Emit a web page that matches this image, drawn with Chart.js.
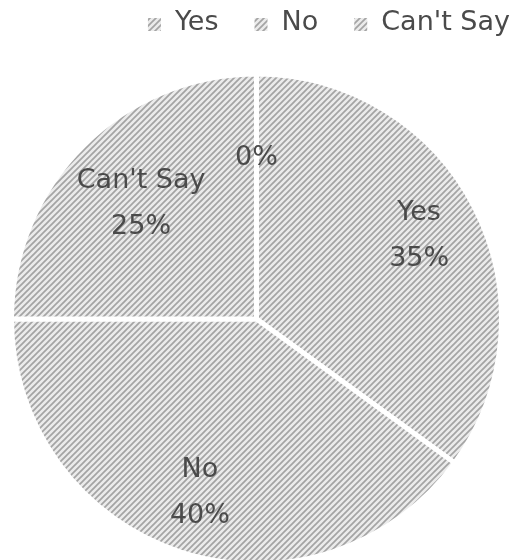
<!DOCTYPE html>
<html><head><meta charset="utf-8">
<script src="https://cdn.jsdelivr.net/npm/chart.js@4.4.0/dist/chart.umd.min.js"></script>
<style>html,body{margin:0;padding:0;background:#fff;overflow:hidden}#wrap{position:relative;width:517px;height:560px}</style>
</head><body><div id="wrap"><canvas id="c" width="517" height="560"></canvas></div>
<script>
const categories = ['Yes', 'No', "Can't Say", ''];
const values = [35, 40, 25, 0];
const legendLabels = ['Yes', 'No', "Can't Say"];

const canvas = document.getElementById('c');
const ctx = canvas.getContext('2d');

function makeHatch() {
  const s = 6;
  const c = document.createElement('canvas');
  c.width = s; c.height = s;
  const g = c.getContext('2d');
  g.fillStyle = '#ebebeb';
  g.fillRect(0, 0, s, s);
  g.strokeStyle = '#a4a4a4';
  g.lineWidth = 1.7;
  g.beginPath();
  g.moveTo(-1, s + 1); g.lineTo(s + 1, -1);
  g.moveTo(-2, 2); g.lineTo(2, -2);
  g.moveTo(s - 2, s + 2); g.lineTo(s + 2, s - 2);
  g.stroke();
  return ctx.createPattern(c, 'repeat');
}
const hatch = makeHatch();

const FONT = '27px "DejaVu Sans"';
const TEXT_COLOR = '#4a4a4a';
const labelRadius = [0.745, 0.747, 0.666, 0.656];

const labelPlugin = {
  id: 'sliceLabels',
  afterDatasetsDraw(chart) {
    const meta = chart.getDatasetMeta(0);
    const data = chart.data.datasets[0].data;
    const total = data.reduce((a, b) => a + b, 0);
    const c = chart.ctx;
    c.save();
    c.font = FONT;
    c.fillStyle = TEXT_COLOR;
    c.textAlign = 'center';
    c.textBaseline = 'middle';
    meta.data.forEach((arc, i) => {
      const p = arc.getProps(['x', 'y', 'startAngle', 'endAngle', 'outerRadius'], true);
      const mid = (p.startAngle + p.endAngle) / 2;
      const r = p.outerRadius * labelRadius[i];
      const px = p.x + Math.cos(mid) * r;
      const py = p.y + Math.sin(mid) * r;
      const pct = Math.round(data[i] / total * 100) + '%';
      const name = chart.data.labels[i];
      if (name) {
        c.fillText(name, px, py - 23);
        c.fillText(pct, px, py + 23);
      } else {
        c.fillText(pct, px, py);
      }
    });
    c.restore();
  }
};

const legendPlugin = {
  id: 'customLegend',
  afterDraw(chart) {
    const c = chart.ctx;
    c.save();
    c.font = FONT;
    c.textBaseline = 'middle';
    c.textAlign = 'left';
    const box = 13, gapText = 14, gapItem = 36, rightEdge = 510, textY = 23, boxY = 18;
    let x = rightEdge;
    for (let i = legendLabels.length - 1; i >= 0; i--) {
      const w = c.measureText(legendLabels[i]).width;
      const tx = x - w;
      c.fillStyle = TEXT_COLOR;
      c.fillText(legendLabels[i], tx, textY);
      const bx = tx - gapText - box;
      c.fillStyle = hatch;
      c.fillRect(bx, boxY, box, box);
      x = bx - gapItem;
    }
    c.restore();
  }
};

new Chart(ctx, {
  type: 'pie',
  data: {
    labels: categories,
    datasets: [{
      data: values,
      backgroundColor: hatch,
      borderColor: '#ffffff',
      borderWidth: 5,
      radius: 245,
      clip: false
    }]
  },
  options: {
    responsive: false,
    devicePixelRatio: 1,
    animation: false,
    layout: { padding: { top: 78, bottom: 0, left: 0, right: 4 } },
    plugins: { legend: { display: false }, tooltip: { enabled: false } }
  },
  plugins: [labelPlugin, legendPlugin]
});
</script>
</body></html>
